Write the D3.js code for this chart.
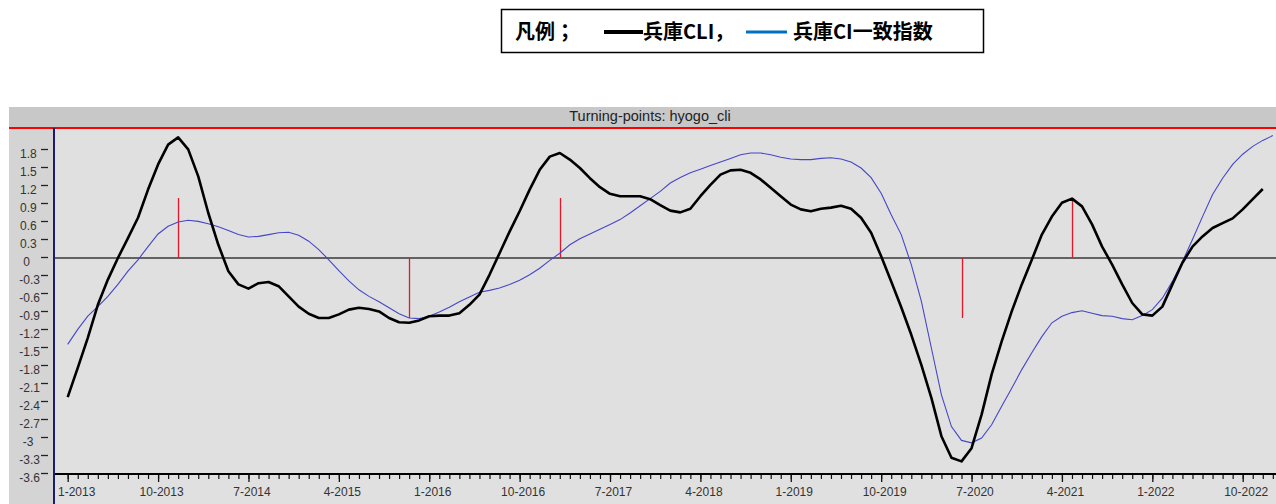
<!DOCTYPE html>
<html>
<head>
<meta charset="utf-8">
<script src="https://cdn.jsdelivr.net/npm/d3@7"></script>
<style>
    body { margin: 0; background: #fff; }
    svg { display: block; }
    .tick text { font-family: "Liberation Sans", Arial, sans-serif; }
</style>
</head>
<body>
<svg id="chart" width="1276" height="504"></svg>
<script>
// 兵庫CLI（月次、1-2013 〜 12-2022）
const cli = [
    -2.32, -1.83, -1.33, -0.78, -0.36, 0.0, 0.33, 0.67, 1.14, 1.56, 1.89, 2.01,
    1.81, 1.36, 0.75, 0.22, -0.22, -0.44, -0.51, -0.42, -0.40, -0.47, -0.64, -0.81,
    -0.93, -1.00, -1.00, -0.94, -0.86, -0.83, -0.85, -0.89, -1.00, -1.07, -1.08, -1.04,
    -0.97, -0.96, -0.96, -0.92, -0.78, -0.61, -0.28, 0.08, 0.44, 0.78, 1.14, 1.47,
    1.69, 1.75, 1.64, 1.50, 1.33, 1.18, 1.07, 1.03, 1.03, 1.03, 0.98, 0.88,
    0.79, 0.76, 0.82, 1.03, 1.22, 1.39, 1.46, 1.47, 1.42, 1.31, 1.17, 1.03,
    0.89, 0.81, 0.78, 0.82, 0.84, 0.87, 0.82, 0.67, 0.42, 0.03, -0.39, -0.82,
    -1.28, -1.78, -2.33, -2.97, -3.33, -3.39, -3.17, -2.61, -1.94, -1.39, -0.89, -0.44,
    -0.03, 0.39, 0.69, 0.92, 0.99, 0.86, 0.56, 0.19, -0.11, -0.44, -0.75, -0.94,
    -0.96, -0.81, -0.44, -0.08, 0.19, 0.36, 0.50, 0.58, 0.66, 0.81, 0.98, 1.15
];

// 兵庫CI一致指数（月次、1-2013 〜 1-2023）
const ci = [
    -1.44, -1.19, -0.97, -0.81, -0.64, -0.44, -0.22, -0.03, 0.19, 0.40, 0.53, 0.60,
    0.63, 0.61, 0.57, 0.52, 0.46, 0.39, 0.35, 0.36, 0.39, 0.42, 0.43, 0.38,
    0.28, 0.14, -0.03, -0.21, -0.38, -0.53, -0.64, -0.73, -0.83, -0.93, -1.00, -1.01,
    -0.97, -0.90, -0.82, -0.73, -0.65, -0.57, -0.54, -0.50, -0.44, -0.37, -0.28, -0.17,
    -0.04, 0.08, 0.22, 0.32, 0.40, 0.48, 0.56, 0.64, 0.75, 0.87, 0.99, 1.11,
    1.25, 1.34, 1.42, 1.48, 1.54, 1.60, 1.66, 1.72, 1.75, 1.75, 1.72, 1.68,
    1.65, 1.64, 1.64, 1.66, 1.67, 1.65, 1.60, 1.50, 1.34, 1.08, 0.72, 0.39,
    -0.11, -0.72, -1.50, -2.28, -2.81, -3.04, -3.08, -3.00, -2.78, -2.47, -2.17, -1.86,
    -1.58, -1.31, -1.08, -0.97, -0.91, -0.88, -0.92, -0.96, -0.97, -1.01, -1.03, -0.96,
    -0.86, -0.67, -0.39, -0.06, 0.31, 0.69, 1.06, 1.33, 1.56, 1.73, 1.86, 1.96,
    2.04
];

// 転換点（月のインデックス、山=1 / 谷=-1）
const turnIdx = [11, 34, 49, 89, 100];
const turnDir = [1, -1, 1, -1, 1];

// 軸の目盛り
const yTicks = [1.8, 1.5, 1.2, 0.9, 0.6, 0.3, 0, -0.3, -0.6, -0.9, -1.2, -1.5, -1.8,
    -2.1, -2.4, -2.7, -3, -3.3, -3.6];
const xTickLabels = ["1-2013", "10-2013", "7-2014", "4-2015", "1-2016", "10-2016",
    "7-2017", "4-2018", "1-2019", "10-2019", "7-2020", "4-2021", "1-2022", "10-2022"];
const monthsShown = 121;

const svg = d3.select("#chart");

// 凡例
const leg = svg.append("g");
leg.append("rect")
    .attr("x", 501.5).attr("y", 9.5).attr("width", 482).attr("height", 43)
    .attr("fill", "#fff").attr("stroke", "#000").attr("stroke-width", 1.5);
const legFont = "'Noto Sans CJK JP', sans-serif";
leg.append("text").attr("x", 515).attr("y", 39)
    .attr("font-family", legFont).attr("font-weight", "bold").attr("font-size", 20)
    .text("凡例；");
leg.append("line").attr("x1", 604).attr("x2", 643).attr("y1", 32).attr("y2", 32)
    .attr("stroke", "#000").attr("stroke-width", 4);
leg.append("text").attr("x", 643).attr("y", 39)
    .attr("font-family", legFont).attr("font-weight", "bold").attr("font-size", 20)
    .text("兵庫CLI，");
leg.append("line").attr("x1", 746).attr("x2", 787).attr("y1", 32).attr("y2", 32)
    .attr("stroke", "#0070c0").attr("stroke-width", 3);
leg.append("text").attr("x", 793).attr("y", 39)
    .attr("font-family", legFont).attr("font-weight", "bold").attr("font-size", 20)
    .text("兵庫CI一致指数");

// 枠・背景
const plotL = 55, plotR = 1276, plotT = 128, plotB = 474;
svg.append("rect").attr("x", 9).attr("y", 107).attr("width", plotR - 9).attr("height", 21)
    .attr("fill", "#c8c8c8");
svg.append("text").attr("x", 650).attr("y", 121)
    .attr("text-anchor", "middle")
    .attr("font-family", "'Liberation Sans', Arial, sans-serif").attr("font-size", 14.5)
    .attr("fill", "#222")
    .text("Turning-points: hyogo_cli");
svg.append("rect").attr("x", 9).attr("y", plotT).attr("width", plotL - 9).attr("height", 504 - plotT)
    .attr("fill", "#d4d4d4");
svg.append("rect").attr("x", plotL).attr("y", plotT).attr("width", plotR - plotL).attr("height", 504 - plotT)
    .attr("fill", "#e0e0e0");

// スケール
const x = d3.scaleLinear().domain([0, 117]).range([67.7, 1242.7]);
const y = d3.scaleLinear().domain([-3.6, 1.8]).range([474, 150]);

svg.append("clipPath").attr("id", "plotClip")
    .append("rect").attr("x", plotL).attr("y", plotT).attr("width", plotR - plotL).attr("height", plotB - plotT);
const plot = svg.append("g").attr("clip-path", "url(#plotClip)");

// ゼロ線
plot.append("line")
    .attr("x1", plotL).attr("x2", plotR).attr("y1", y(0)).attr("y2", y(0))
    .attr("stroke", "#626262").attr("stroke-width", 2);

// 転換点マーカー
plot.selectAll(".turn").data(turnIdx).join("line")
    .attr("class", "turn")
    .attr("x1", d => Math.round(x(d)) + 0.5).attr("x2", d => Math.round(x(d)) + 0.5)
    .attr("y1", y(0))
    .attr("y2", (d, i) => y(turnDir[i]))
    .attr("stroke", "#e8142a").attr("stroke-width", 1.3);

const line = d3.line().x((d, i) => x(i)).y(d => y(d));

plot.append("path").datum(ci)
    .attr("d", line)
    .attr("fill", "none").attr("stroke", "#4646c8").attr("stroke-width", 1.1);

plot.append("path").datum(cli)
    .attr("d", line)
    .attr("fill", "none").attr("stroke", "#000").attr("stroke-width", 2.6)
    .attr("stroke-linejoin", "round");

// 上端の赤線、左端の線
svg.append("line").attr("x1", 9).attr("x2", plotR).attr("y1", plotT).attr("y2", plotT)
    .attr("stroke", "#ff0000").attr("stroke-width", 2);
svg.append("line").attr("x1", 54).attr("x2", 54).attr("y1", plotT).attr("y2", 504)
    .attr("stroke", "#1c1c6e").attr("stroke-width", 2);

// Y軸
const yAxis = svg.append("g").attr("transform", "translate(48,0)")
    .call(d3.axisLeft(y).tickValues(yTicks).tickSize(7).tickPadding(1)
        .tickFormat(d => String(d).padEnd(4, " ")));
yAxis.select(".domain").remove();
yAxis.selectAll(".tick line").attr("stroke", "#222").attr("stroke-width", 1.3)
    .attr("transform", "translate(0,-1)");
yAxis.selectAll(".tick text")
    .attr("font-size", 12).attr("fill", "#333").attr("dy", "0.6em")
    .style("white-space", "pre");

// X軸（月ごとの小目盛り + 9か月ごとのラベル）
const xMinor = svg.append("g").attr("transform", `translate(0,${plotB})`)
    .call(d3.axisBottom(x).tickValues(d3.range(0, monthsShown)).tickSize(5).tickFormat(""));
xMinor.select(".domain").remove();
xMinor.selectAll(".tick line").attr("stroke", "#111").attr("stroke-width", 1.2);

const xMajor = svg.append("g").attr("transform", `translate(0,${plotB})`)
    .call(d3.axisBottom(x).tickValues(xTickLabels.map((_, i) => i * 9)).tickSize(8).tickPadding(5)
        .tickFormat((d, i) => xTickLabels[i]));
xMajor.select(".domain").remove();
xMajor.selectAll(".tick line").attr("stroke", "#111").attr("stroke-width", 1.3);
xMajor.selectAll(".tick text")
    .attr("font-size", 12).attr("fill", "#333").attr("dx", 3)
    .each(function() {
        // 左端のラベルは枠内に収める
        const g = this.parentNode;
        const tx = +d3.select(g).attr("transform").match(/translate\(([-\d.]+)/)[1];
        const w = this.getComputedTextLength();
        if (tx + 3 - w / 2 < 58) d3.select(this).attr("dx", 58 - (tx - w / 2));
    });

svg.append("line").attr("x1", plotL).attr("x2", plotR).attr("y1", plotB).attr("y2", plotB)
    .attr("stroke", "#000").attr("stroke-width", 2);
</script>
</body>
</html>
